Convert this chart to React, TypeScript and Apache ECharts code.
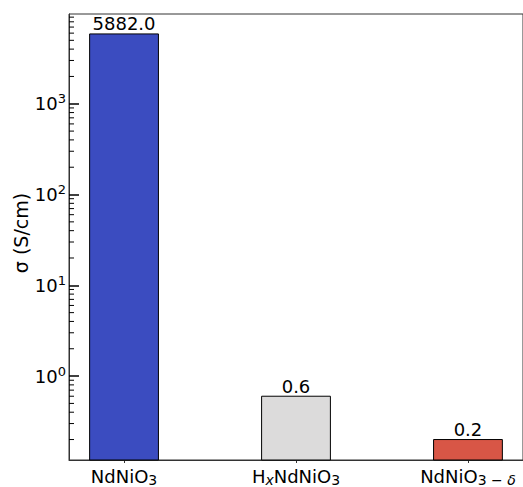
import React, { useEffect, useRef } from "react";
import * as echarts from "echarts";

const categories = ["NdNiO3", "HxNdNiO3", "NdNiO3-δ"];
const categoryLabels = ["NdNiO{sub|3}", "H{subx|x}NdNiO{sub|3}", "NdNiO{sub|3 − }{subd|δ}"];
const conductivity = [5882.0, 0.6, 0.2];
const barColors = ["#3b4cc0", "#dcdbdb", "#d85646"];
const minorMultipliers = [2, 3, 4, 5, 6, 7, 8, 9];
const decades = [0.1, 1, 10, 100, 1000];

const X_MIN = -0.32;
const X_MAX = 2.32;
const Y_MIN = 0.119;
const Y_MAX = 9750;
const BAR_WIDTH = 0.4;
const FONT = "DejaVu Sans";

export default function App() {
  const ref = useRef<HTMLDivElement>(null);
  useEffect(() => {
    if (!ref.current) return;
    const chart = echarts.init(ref.current, null, { renderer: "svg" });
    const minorTicks: number[] = [];
    decades.forEach((d) =>
      minorMultipliers.forEach((m) => {
        const v = d * m;
        if (v > Y_MIN && v < Y_MAX) minorTicks.push(v);
      })
    );
    const subStyle = { fontSize: 14, fontFamily: FONT, color: "#000", padding: [8, 0, 0, 0] };
    chart.setOption({
      animation: false,
      backgroundColor: "#ffffff",
      grid: {
        left: 69,
        top: 14,
        width: 459,
        height: 447,
        show: true,
        borderColor: "#333",
        borderWidth: 1,
        backgroundColor: "transparent",
      },
      xAxis: {
        type: "value",
        min: X_MIN,
        max: X_MAX,
        splitLine: { show: false },
        axisLine: { show: true, onZero: false, lineStyle: { color: "#333", width: 1 } },
        axisTick: {
          show: true,
          inside: false,
          length: 3,
          customValues: [0, 1, 2],
          lineStyle: { color: "#333", width: 1 },
        },
        axisLabel: {
          customValues: [0, 1, 2],
          margin: 5,
          formatter: (v: number) => categoryLabels[Math.round(v)] ?? "",
          rich: {
            sub: subStyle,
            subx: { ...subStyle, fontStyle: "italic" },
            subd: { ...subStyle, fontStyle: "italic" },
          },
          fontSize: 18,
          fontFamily: FONT,
          color: "#000",
        },
      },
      yAxis: {
        type: "log",
        logBase: 10,
        min: Y_MIN,
        max: Y_MAX,
        name: "σ (S/cm)",
        nameLocation: "middle",
        nameGap: 39,
        nameMoveOverlap: false,
        nameTextStyle: { fontSize: 19, fontFamily: FONT, color: "#000", padding: [0, 0, 0, 8] },
        splitLine: { show: false },
        axisLine: { show: true, onZero: false, lineStyle: { color: "#333", width: 1 } },
        axisTick: { show: true, inside: true, length: 10, lineStyle: { color: "#000", width: 1.5 } },
        axisLabel: {
          margin: 3,
          showMinLabel: false,
          showMaxLabel: false,
          formatter: (v: number) => {
            const e = Math.log10(v);
            const r = Math.round(e);
            if (Math.abs(e - r) > 1e-6) return "";
            return `{b|10}{sup|${r}}`;
          },
          rich: {
            b: { fontSize: 18, fontFamily: FONT, color: "#000" },
            sup: { fontSize: 13, fontFamily: FONT, color: "#000", padding: [0, 0, 10, 0] },
          },
        },
      },
      series: [
        {
          type: "custom",
          name: "bars",
          clip: false,
          encode: { x: 0, y: 1 },
          data: conductivity.map((v, i) => [i, v]),
          renderItem: (params: any, api: any) => {
            const x = api.value(0);
            const v = api.value(1);
            const top = api.coord([x, v]);
            const bot = api.coord([x, Y_MIN]);
            const w = api.size([BAR_WIDTH, 0], [x, v])[0];
            return {
              type: "group",
              children: [
                {
                  type: "rect",
                  shape: { x: top[0] - w / 2, y: top[1], width: w, height: bot[1] - top[1] },
                  style: { fill: barColors[params.dataIndex], stroke: "#000", lineWidth: 1 },
                },
                {
                  type: "text",
                  x: top[0],
                  y: top[1] - 1,
                  style: {
                    text: v.toFixed(1),
                    fill: "#000",
                    font: `18px "${FONT}"`,
                    align: "center",
                    verticalAlign: "bottom",
                  },
                },
              ],
            };
          },
        },
        {
          type: "custom",
          name: "minorTicks",
          clip: false,
          silent: true,
          encode: { x: 0, y: 1 },
          data: minorTicks.map((v) => [X_MIN, v]),
          renderItem: (params: any, api: any) => {
            const p = api.coord([api.value(0), api.value(1)]);
            return {
              type: "line",
              shape: { x1: p[0], y1: p[1], x2: p[0] + 5, y2: p[1] },
              style: { stroke: "#000", lineWidth: 1 },
            };
          },
        },
      ],
    });
    return () => chart.dispose();
  }, []);
  return (
    <div
      ref={ref}
      style={{ position: "absolute", left: 0, top: 0, width: 523, height: 487 }}
      data-categories={categories.join(",")}
    />
  );
}
